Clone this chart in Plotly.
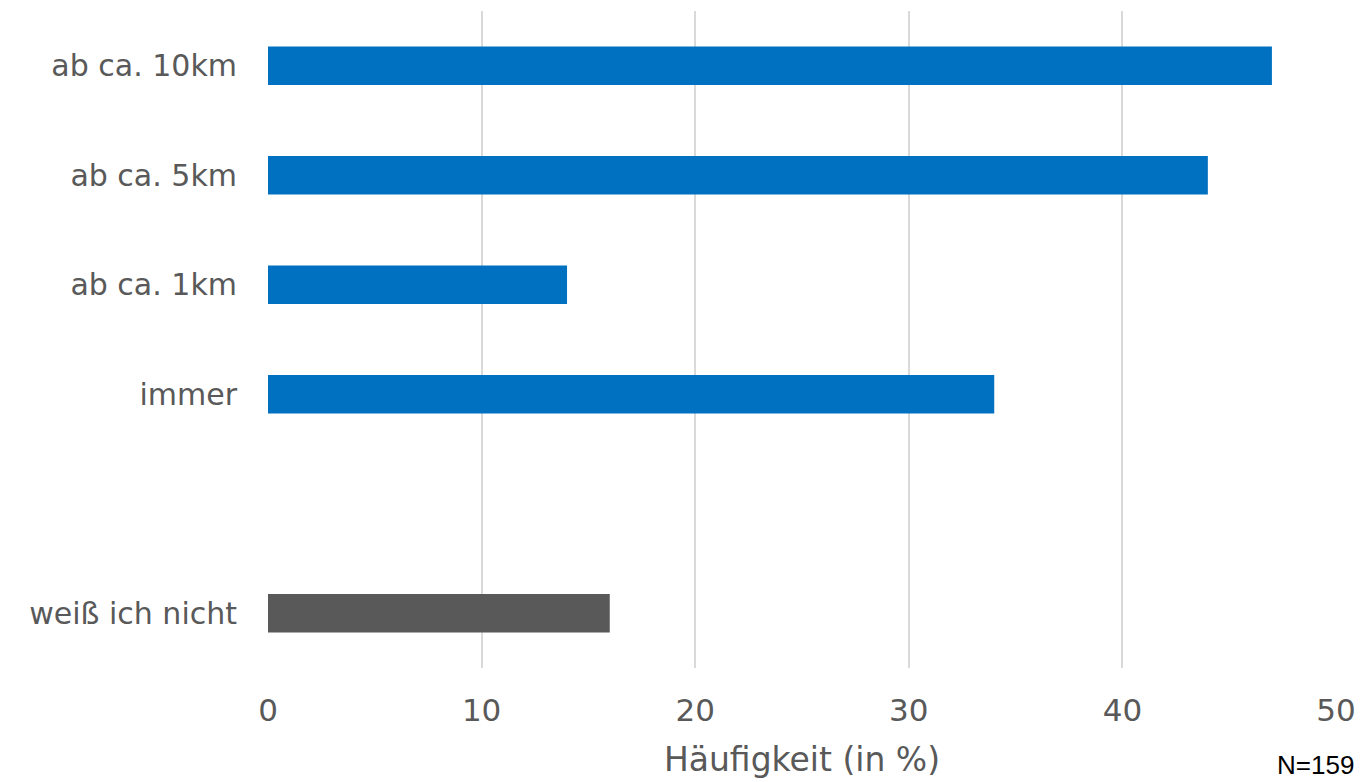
import plotly.graph_objects as go

# Survey answers (top to bottom) and share of respondents in percent
categories = ["ab ca. 10km", "ab ca. 5km", "ab ca. 1km", "immer", " ", "weiß ich nicht"]
values = [47, 44, 14, 34, None, 16]
colors = ["#0070C0", "#0070C0", "#0070C0", "#0070C0", "#0070C0", "#595959"]
x_ticks = [0, 10, 20, 30, 40, 50]
sample_note = "N=159"

font_family = "DejaVu Sans, Verdana, sans-serif"
text_grey = "#595959"

fig = go.Figure(
    go.Bar(
        y=categories,
        x=values,
        orientation="h",
        marker=dict(color=colors, line=dict(width=0)),
        hoverinfo="x+y",
    )
)

fig.update_layout(
    width=1367,
    height=782,
    margin=dict(l=268, r=29, t=11, b=113),
    paper_bgcolor="white",
    plot_bgcolor="white",
    bargap=0.65,
    showlegend=False,
    font=dict(family=font_family, color=text_grey),
    annotations=[
        dict(
            text=sample_note,
            xref="paper", yref="paper",
            x=1.0, y=0, xanchor="right", yanchor="top",
            xshift=20, yshift=-80,
            showarrow=False,
            font=dict(family="Liberation Sans, Arial, sans-serif", size=26, color="black"),
        )
    ],
)

fig.update_xaxes(
    range=[0, 50],
    tickvals=x_ticks,
    showgrid=True,
    gridcolor="#d9d9d9",
    gridwidth=2,
    zeroline=False,
    showline=False,
    ticks="",
    ticklabelstandoff=21,
    tickfont=dict(size=31, color=text_grey),
    title=dict(text="Häufigkeit (in %)", font=dict(size=33, color=text_grey), standoff=20),
    fixedrange=True,
)

fig.update_yaxes(
    categoryorder="array",
    categoryarray=categories[::-1],
    autorange=False,
    range=[-0.5, len(categories) - 0.5],
    showgrid=False,
    zeroline=False,
    showline=False,
    ticks="",
    ticklabelstandoff=30,
    tickfont=dict(size=30, color=text_grey),
    fixedrange=True,
)

fig.write_html("out.html")
